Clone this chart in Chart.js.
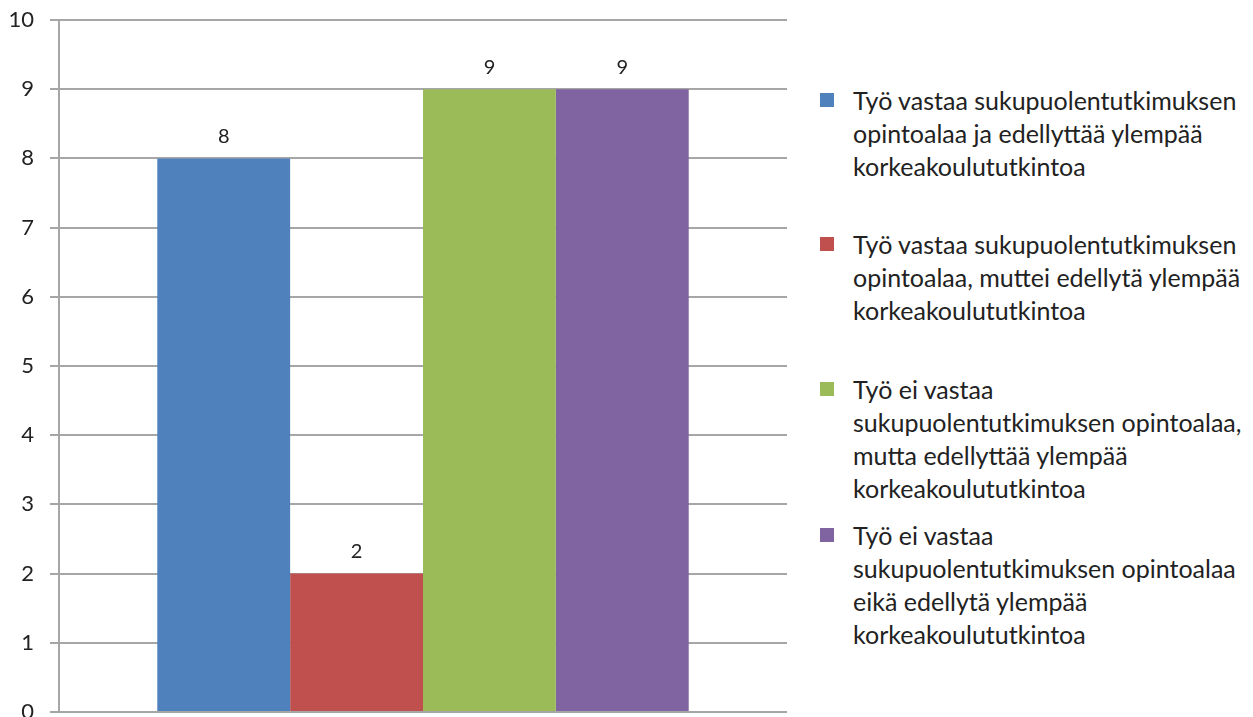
<!DOCTYPE html>
<html>
<head>
<meta charset="utf-8">
<script src="https://cdn.jsdelivr.net/npm/chart.js@4"></script>
<style>
  body { margin: 0; background: #fff; }
  #wrap { position: relative; width: 1253px; height: 717px; overflow: hidden; }
  #chartBox { position: absolute; left: 0; top: 0; width: 800px; height: 717px; }
  .item { position: absolute; left: 820px; font-family: Lato, sans-serif; font-size: 25px; line-height: 33px; color: #222; }
  .item .box { position: absolute; left: 0; top: 9px; width: 14px; height: 14px; }
  .item .txt { margin-left: 33px; white-space: nowrap; }
</style>
</head>
<body>
<div id="wrap">
  <div id="chartBox"><canvas id="myChart"></canvas></div>
  <div id="legend"></div>
</div>
<script>
const categories = [""]
const seriesNames = [
    "Työ vastaa sukupuolentutkimuksen opintoalaa ja edellyttää ylempää korkeakoulututkintoa",
    "Työ vastaa sukupuolentutkimuksen opintoalaa, muttei edellytä ylempää korkeakoulututkintoa",
    "Työ ei vastaa sukupuolentutkimuksen opintoalaa, mutta edellyttää ylempää korkeakoulututkintoa",
    "Työ ei vastaa sukupuolentutkimuksen opintoalaa eikä edellytä ylempää korkeakoulututkintoa"
]
// legend lines as wrapped in the picture
const legendLines = [
    ["Työ vastaa sukupuolentutkimuksen", "opintoalaa ja edellyttää ylempää", "korkeakoulututkintoa"],
    ["Työ vastaa sukupuolentutkimuksen", "opintoalaa, muttei edellytä ylempää", "korkeakoulututkintoa"],
    ["Työ ei vastaa", "sukupuolentutkimuksen opintoalaa,", "mutta edellyttää ylempää", "korkeakoulututkintoa"],
    ["Työ ei vastaa", "sukupuolentutkimuksen opintoalaa", "eikä edellytä ylempää", "korkeakoulututkintoa"]
]
const seriesValues = [8, 2, 9, 9]
const colors = ["#4F81BD", "#C0504D", "#9BBB59", "#8064A2"]
const yTicks = [0, 1, 2, 3, 4, 5, 6, 7, 8, 9, 10]

var legendTops = [84, 228, 373, 519]

var legend = document.getElementById("legend")
for (var i = 0; i < legendLines.length; i++) {
    var item = document.createElement("div")
    item.className = "item"
    item.style.top = legendTops[i] + "px"
    var box = document.createElement("span")
    box.className = "box"
    box.style.background = colors[i]
    item.appendChild(box)
    var txt = document.createElement("div")
    txt.className = "txt"
    txt.innerHTML = legendLines[i].join("<br>")
    item.appendChild(txt)
    legend.appendChild(item)
}

// value labels above each bar
const barLabels = {
    id: "barLabels",
    afterDatasetsDraw(chart) {
        var ctx = chart.ctx
        ctx.save()
        ctx.font = "20px Lato, sans-serif"
        ctx.fillStyle = "#222"
        ctx.textAlign = "center"
        ctx.textBaseline = "middle"
        chart.data.datasets.forEach((ds, i) => {
            chart.getDatasetMeta(i).data.forEach((bar, j) => {
                ctx.fillText(ds.data[j], bar.x, bar.y - 22)
            })
        })
        ctx.restore()
    }
}

new Chart(document.getElementById("myChart"), {
    type: "bar",
    data: {
        labels: categories,
        datasets: seriesNames.map((name, i) => ({
            label: name,
            data: [seriesValues[i]],
            backgroundColor: colors[i],
            borderWidth: 0,
            categoryPercentage: 0.73,
            barPercentage: 1
        }))
    },
    options: {
        responsive: true,
        maintainAspectRatio: false,
        animation: false,
        layout: { padding: { top: 20, right: 13, bottom: 5, left: 0 } },
        plugins: {
            legend: { display: false },
            tooltip: { enabled: false }
        },
        scales: {
            x: { display: false },
            y: {
                min: 0,
                max: 10,
                afterBuildTicks: (s) => { s.ticks = yTicks.map(v => ({ value: v })) },
                afterFit: (s) => {
                    s.width = 59
                    s.paddingTop = 0
                    s.paddingBottom = 0
                },
                ticks: {
                    color: "#222",
                    font: { family: "Lato, sans-serif", size: 22 },
                    padding: 16
                },
                grid: { color: "#a6a6a6", lineWidth: 2, tickLength: 9 },
                border: { color: "#a6a6a6", width: 2 }
            }
        }
    },
    plugins: [barLabels]
})
</script>
</body>
</html>
